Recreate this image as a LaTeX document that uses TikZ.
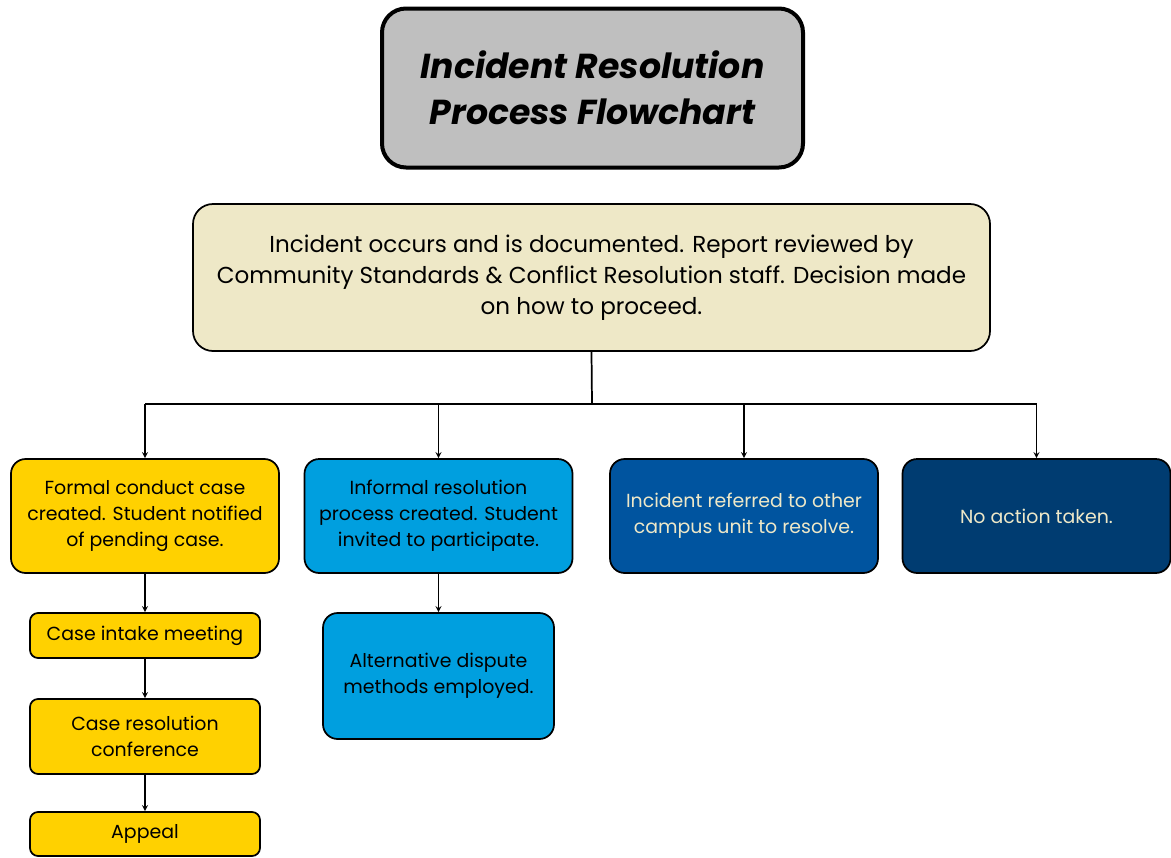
\documentclass[tikz,border=0pt]{standalone}
\usepackage{fontspec}
\setmainfont{Poppins}
\usetikzlibrary{arrows,calc}

\definecolor{titlegray}{HTML}{BFBFBF}
\definecolor{startcream}{HTML}{EEE8C7}
\definecolor{formalyellow}{HTML}{FFD100}
\definecolor{informalblue}{HTML}{009FDF}
\definecolor{referblue}{HTML}{00549F}
\definecolor{noactblue}{HTML}{003C71}
\definecolor{lighttext}{HTML}{EEE8C8}

\tikzset{
  box/.style={draw=black,line width=1.3pt,align=center,inner sep=0pt},
  bigbox/.style={box,rounded corners=11pt,minimum width=201pt,minimum height=85.5pt,
    font=\fontsize{14.2}{19.5}\selectfont},
  smallbox/.style={box,rounded corners=6pt,minimum width=172.5pt,
    font=\fontsize{14.2}{19.5}\selectfont},
  flow/.style={->,>=stealth,line width=1pt}
}

\begin{document}
\begin{tikzpicture}[x=0.75pt,y=-0.75pt]
        \useasboundingbox (0,0) rectangle (1171,857);
        \node[box,line width=3pt,rounded corners=18pt,fill=titlegray,minimum width=315.75pt,minimum height=119.25pt,font=\fontsize{26}{34.5}\selectfont\bfseries\itshape] (title) at (592.5,88) {Incident Resolution\\Process Flowchart};
        \node[box,rounded corners=15pt,fill=startcream,minimum width=597.75pt,minimum height=110.25pt,font=\fontsize{17.3}{23.25}\selectfont] (start) at (591.5,277.5) {Incident occurs and is documented. Report reviewed by\\Community Standards \& Conflict Resolution staff. Decision made\\on how to proceed.};
        \node[bigbox,fill=formalyellow] (formal) at (145,516) {Formal conduct case\\created. Student notified\\of pending case.};
        \node[bigbox,fill=informalblue] (informal) at (438.5,516) {Informal resolution\\process created. Student\\invited to participate.};
        \node[bigbox,fill=referblue,text=lighttext] (referred) at (744,516) {Incident referred to other\\campus unit to resolve.};
        \node[bigbox,fill=noactblue,text=lighttext] (noaction) at (1036.5,516) {No action taken.};
        \node[smallbox,fill=formalyellow,minimum height=33.75pt] (intake) at (145,635.5) {Case intake meeting};
        \node[smallbox,fill=formalyellow,minimum height=56.25pt] (conference) at (145,736.5) {Case resolution\\conference};
        \node[smallbox,fill=formalyellow,minimum height=33pt] (appeal) at (145,834) {Appeal};
        \node[bigbox,fill=informalblue,minimum width=173.25pt,minimum height=94.5pt] (dispute) at (438.5,676) {Alternative dispute\\methods employed.};
        % branching bus
        \coordinate (bus) at (592,404);
        \draw[line width=1.3pt] (start.south) -- (bus);
        \draw[line width=1pt] (formal.north |- bus) -- (noaction.north |- bus);
        \foreach \n in {formal,informal,referred,noaction}
          \draw[flow] (\n.north |- bus) -- (\n.north);
        \draw[flow] (formal) -- (intake);
        \draw[flow] (intake) -- (conference);
        \draw[flow] (conference) -- (appeal);
        \draw[flow] (informal) -- (dispute);
\end{tikzpicture}
\end{document}
